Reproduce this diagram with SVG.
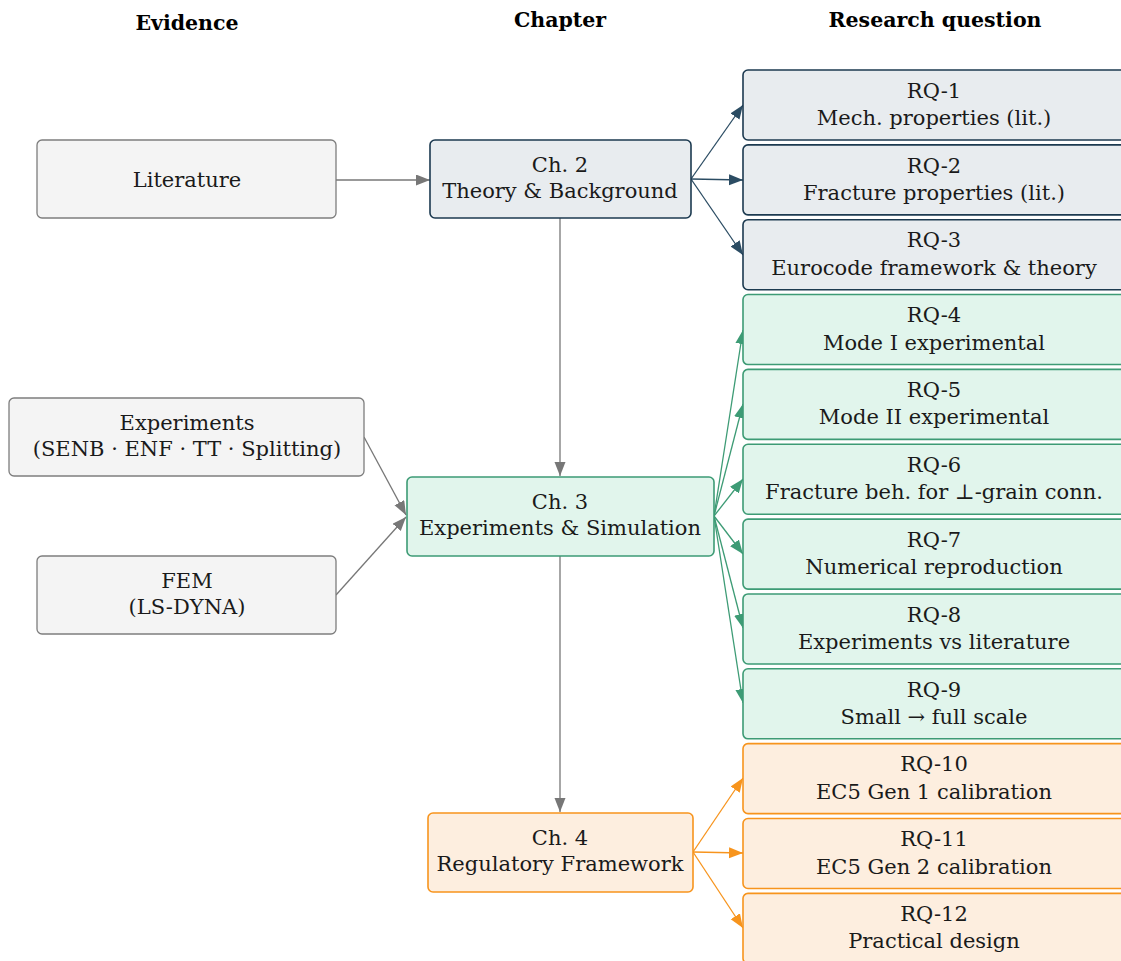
<svg xmlns="http://www.w3.org/2000/svg" width="1121" height="961" viewBox="0 0 1121 961">
<defs>
<marker id="mg" markerWidth="15" markerHeight="12" refX="14" refY="5.5" orient="auto" markerUnits="userSpaceOnUse"><path d="M0,0 L14,5.5 L0,11 z" fill="#777777"/></marker>
<marker id="mn" markerWidth="15" markerHeight="12" refX="14" refY="5.5" orient="auto" markerUnits="userSpaceOnUse"><path d="M0,0 L14,5.5 L0,11 z" fill="#2b4c63"/></marker>
<marker id="mgr" markerWidth="15" markerHeight="12" refX="14" refY="5.5" orient="auto" markerUnits="userSpaceOnUse"><path d="M0,0 L14,5.5 L0,11 z" fill="#3d9b75"/></marker>
<marker id="mo" markerWidth="15" markerHeight="12" refX="14" refY="5.5" orient="auto" markerUnits="userSpaceOnUse"><path d="M0,0 L14,5.5 L0,11 z" fill="#f7941d"/></marker>
</defs>
<style>
text{font-family:"DejaVu Serif","Liberation Serif",serif;font-size:21px;fill:#1a1a1a;text-anchor:middle}
.h{font-weight:bold;font-size:20.5px;fill:#000}
.ev{fill:#f4f4f4;stroke:#7d7d7d;stroke-width:1.3}
.nv{fill:#e8ecef;stroke:#1c3a50;stroke-width:1.6}
.gr{fill:#e1f5ec;stroke:#3d9b75;stroke-width:1.6}
.or{fill:#fdeedf;stroke:#f7941d;stroke-width:1.6}
.c{fill:none;stroke-width:1.3}
.cg{stroke:#777777}
.cn{stroke:#2b4c63}
.cgr{stroke:#3d9b75}
.co{stroke:#f7941d}
</style>
<rect width="1121" height="961" fill="#ffffff"/>
<g id="headers">
<text class="h" x="187" y="30">Evidence</text>
<text class="h" x="560" y="27">Chapter</text>
<text class="h" x="935" y="27">Research question</text>
</g>
<g id="connectors">
<line class="c cg" x1="336" y1="180" x2="430" y2="180" marker-end="url(#mg)"/>
<line class="c cn" x1="691" y1="179" x2="743" y2="105" marker-end="url(#mn)"/>
<line class="c cn" x1="691" y1="179" x2="743" y2="180" marker-end="url(#mn)"/>
<line class="c cn" x1="691" y1="179" x2="743" y2="255" marker-end="url(#mn)"/>
<line class="c cg" x1="560" y1="218" x2="560" y2="476" marker-end="url(#mg)"/>
<line class="c cg" x1="364" y1="437" x2="406" y2="515" marker-end="url(#mg)"/>
<line class="c cg" x1="336" y1="595" x2="406" y2="517" marker-end="url(#mg)"/>
<line class="c cgr" x1="714" y1="516" x2="743" y2="330" marker-end="url(#mgr)"/>
<line class="c cgr" x1="714" y1="516" x2="743" y2="404" marker-end="url(#mgr)"/>
<line class="c cgr" x1="714" y1="516" x2="743" y2="479" marker-end="url(#mgr)"/>
<line class="c cgr" x1="714" y1="516" x2="743" y2="554" marker-end="url(#mgr)"/>
<line class="c cgr" x1="714" y1="516" x2="743" y2="628" marker-end="url(#mgr)"/>
<line class="c cgr" x1="714" y1="516" x2="743" y2="703" marker-end="url(#mgr)"/>
<line class="c cg" x1="560" y1="556" x2="560" y2="812" marker-end="url(#mg)"/>
<line class="c co" x1="693" y1="852" x2="743" y2="778" marker-end="url(#mo)"/>
<line class="c co" x1="693" y1="852" x2="743" y2="853" marker-end="url(#mo)"/>
<line class="c co" x1="693" y1="852" x2="743" y2="928" marker-end="url(#mo)"/>
</g>
<g id="literature"><rect class="ev" x="37" y="140" width="299" height="78" rx="5"/><text x="187" y="187">Literature</text></g>
<g id="experiments"><rect class="ev" x="9" y="398" width="355" height="78" rx="5"/><text x="187" y="430">Experiments</text><text x="187" y="456">(SENB · ENF · TT · Splitting)</text></g>
<g id="fem"><rect class="ev" x="37" y="556" width="299" height="78" rx="5"/><text x="187" y="588">FEM</text><text x="187" y="614">(LS-DYNA)</text></g>
<g id="ch2"><rect class="nv" x="430" y="140" width="261" height="78" rx="5"/><text x="560" y="172">Ch. 2</text><text x="560" y="198">Theory &amp; Background</text></g>
<g id="ch3"><rect class="gr" x="407" y="477" width="307" height="79" rx="5"/><text x="560" y="509">Ch. 3</text><text x="560" y="535">Experiments &amp; Simulation</text></g>
<g id="ch4"><rect class="or" x="428" y="813" width="265" height="79" rx="5"/><text x="560" y="845">Ch. 4</text><text x="560" y="871">Regulatory Framework</text></g>
<g id="rq1"><rect class="nv" x="743" y="70" width="390" height="70" rx="5"/><text x="934" y="97.7">RQ-1</text><text x="934" y="125">Mech. properties (lit.)</text></g>
<g id="rq2"><rect class="nv" x="743" y="144.85" width="390" height="70" rx="5"/><text x="934" y="172.5">RQ-2</text><text x="934" y="199.9">Fracture properties (lit.)</text></g>
<g id="rq3"><rect class="nv" x="743" y="219.7" width="390" height="70" rx="5"/><text x="934" y="247.4">RQ-3</text><text x="934" y="274.7">Eurocode framework &amp; theory</text></g>
<g id="rq4"><rect class="gr" x="743" y="294.55" width="390" height="70" rx="5"/><text x="934" y="322.2">RQ-4</text><text x="934" y="349.5">Mode I experimental</text></g>
<g id="rq5"><rect class="gr" x="743" y="369.4" width="390" height="70" rx="5"/><text x="934" y="397.1">RQ-5</text><text x="934" y="424.4">Mode II experimental</text></g>
<g id="rq6"><rect class="gr" x="743" y="444.25" width="390" height="70" rx="5"/><text x="934" y="471.9">RQ-6</text><text x="934" y="499.2">Fracture beh. for ⊥-grain conn.</text></g>
<g id="rq7"><rect class="gr" x="743" y="519.1" width="390" height="70" rx="5"/><text x="934" y="546.8">RQ-7</text><text x="934" y="574.1">Numerical reproduction</text></g>
<g id="rq8"><rect class="gr" x="743" y="593.95" width="390" height="70" rx="5"/><text x="934" y="621.6">RQ-8</text><text x="934" y="648.9">Experiments vs literature</text></g>
<g id="rq9"><rect class="gr" x="743" y="668.8" width="390" height="70" rx="5"/><text x="934" y="696.5">RQ-9</text><text x="934" y="723.8">Small → full scale</text></g>
<g id="rq10"><rect class="or" x="743" y="743.65" width="390" height="70" rx="5"/><text x="934" y="771.3">RQ-10</text><text x="934" y="798.6">EC5 Gen 1 calibration</text></g>
<g id="rq11"><rect class="or" x="743" y="818.5" width="390" height="70" rx="5"/><text x="934" y="846.2">RQ-11</text><text x="934" y="873.5">EC5 Gen 2 calibration</text></g>
<g id="rq12"><rect class="or" x="743" y="893.35" width="390" height="70" rx="5"/><text x="934" y="921">RQ-12</text><text x="934" y="948.3">Practical design</text></g>
</svg>
